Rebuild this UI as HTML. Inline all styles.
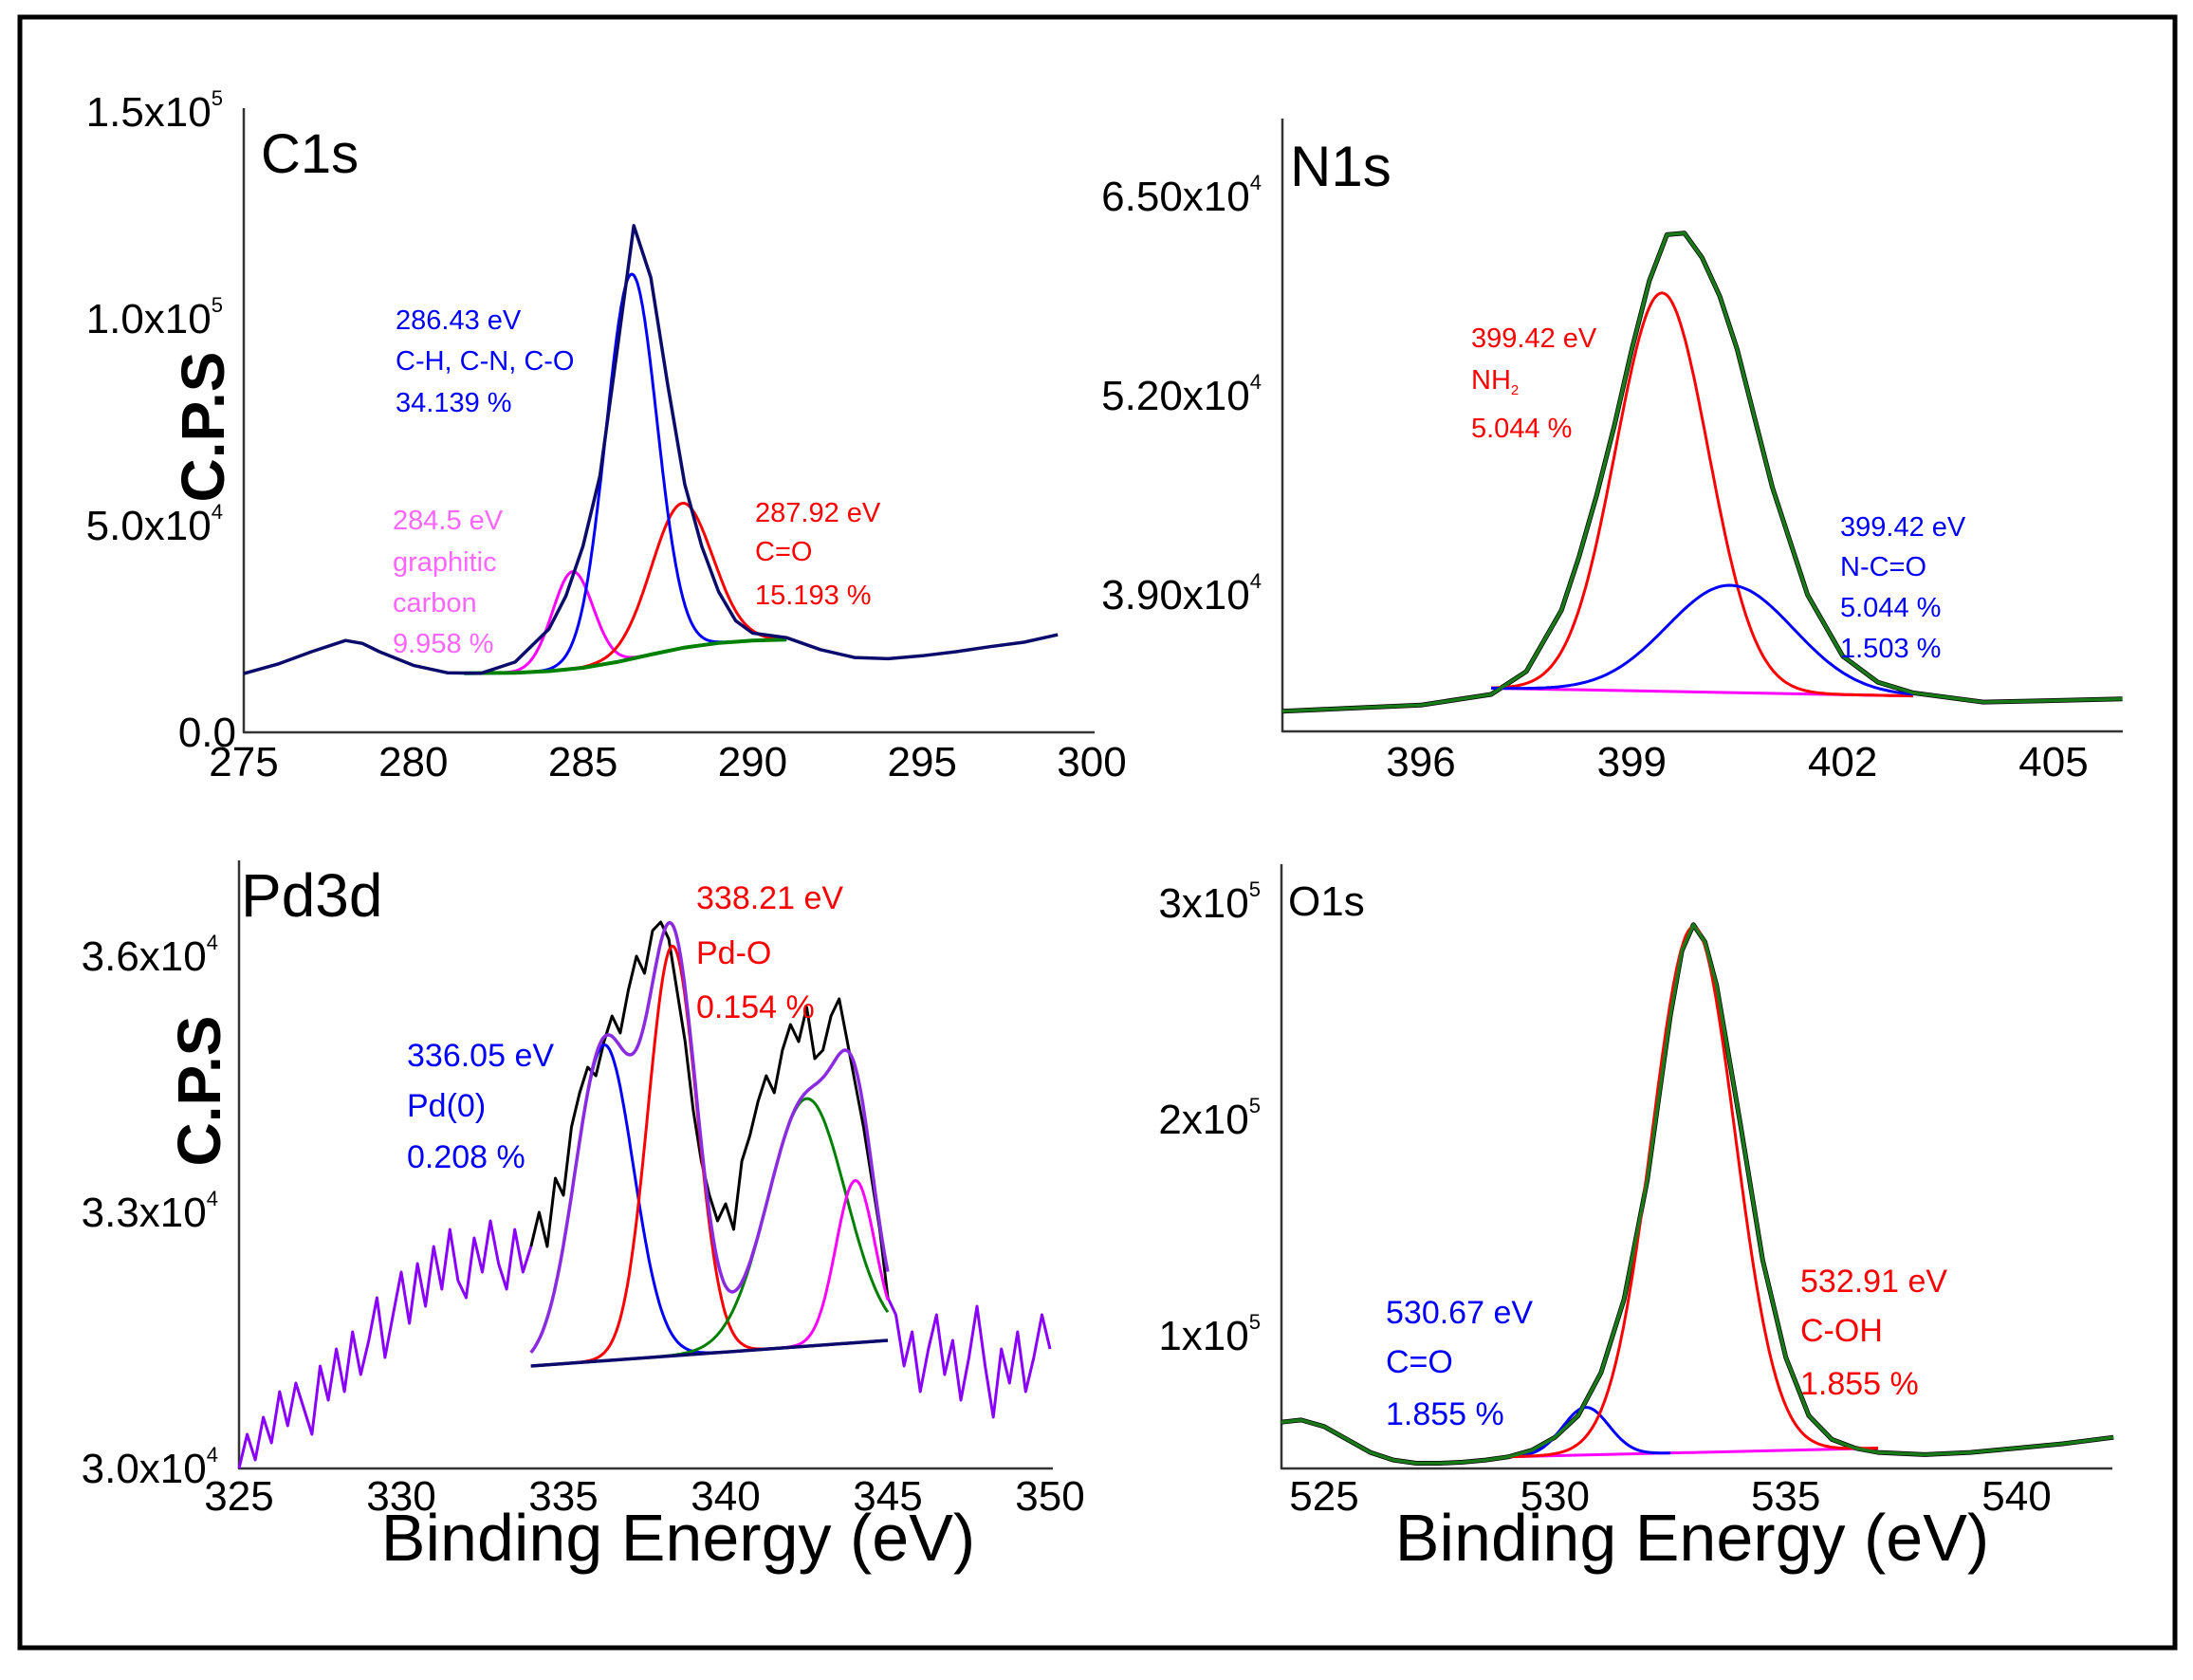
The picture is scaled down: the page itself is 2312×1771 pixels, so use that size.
<!DOCTYPE html>
<html><head><meta charset="utf-8">
<style>
html,body{margin:0;padding:0;background:#fff;}
svg{display:block;}
text{font-family:"Liberation Sans",sans-serif;}
</style></head>
<body>
<svg id="fig" width="2312" height="1771" viewBox="0 0 2312 1771" xmlns="http://www.w3.org/2000/svg">
<rect x="21" y="18" width="2272" height="1719" fill="none" stroke="#000" stroke-width="5"/>
<g id="layer"></g>
<text x="275" y="182" font-size="58">C1s</text>
<text transform="translate(236,450) rotate(-90)" text-anchor="middle" font-size="64" font-weight="bold">C.P.S</text>
<g font-size="29">
<text x="417" y="347" fill="#0000ff">286.43 eV</text>
<text x="417" y="390" fill="#0000ff">C-H, C-N, C-O</text>
<text x="417" y="434" fill="#0000ff">34.139 %</text>
<text x="414" y="558" fill="#ff66ff">284.5 eV</text>
<text x="414" y="602" fill="#ff66ff">graphitic</text>
<text x="414" y="645" fill="#ff66ff">carbon</text>
<text x="414" y="688" fill="#ff66ff">9.958 %</text>
<text x="796" y="550" fill="#ff0000">287.92 eV</text>
<text x="796" y="591" fill="#ff0000">C=O</text>
<text x="796" y="637" fill="#ff0000">15.193 %</text>
</g>
<text x="1360" y="196" font-size="60">N1s</text>
<g font-size="29">
<text x="1551" y="366" fill="#ff0000">399.42 eV</text>
<text x="1551" y="410" fill="#ff0000">NH<tspan font-size="15" dy="6">2</tspan></text>
<text x="1551" y="461" fill="#ff0000">5.044 %</text>
<text x="1940" y="565" fill="#0000ff">399.42 eV</text>
<text x="1940" y="607" fill="#0000ff">N-C=O</text>
<text x="1940" y="650" fill="#0000ff">5.044 %</text>
<text x="1940" y="693" fill="#0000ff">1.503 %</text>
</g>
<text x="254" y="966" font-size="64">Pd3d</text>
<text transform="translate(232,1150) rotate(-90)" text-anchor="middle" font-size="64" font-weight="bold">C.P.S</text>
<g font-size="34">
<text x="429" y="1124" fill="#0000ff">336.05 eV</text>
<text x="429" y="1177" fill="#0000ff">Pd(0)</text>
<text x="429" y="1231" fill="#0000ff">0.208 %</text>
<text x="734" y="958" fill="#ff0000">338.21 eV</text>
<text x="734" y="1016" fill="#ff0000">Pd-O</text>
<text x="734" y="1073" fill="#ff0000">0.154 %</text>
</g>
<text x="715" y="1645" text-anchor="middle" font-size="70">Binding Energy (eV)</text>
<text x="1358" y="965" font-size="44">O1s</text>
<g font-size="34">
<text x="1461" y="1395" fill="#0000ff">530.67 eV</text>
<text x="1461" y="1447" fill="#0000ff">C=O</text>
<text x="1461" y="1502" fill="#0000ff">1.855 %</text>
<text x="1898" y="1362" fill="#ff0000">532.91 eV</text>
<text x="1898" y="1414" fill="#ff0000">C-OH</text>
<text x="1898" y="1470" fill="#ff0000">1.855 %</text>
</g>
<text x="1784" y="1645" text-anchor="middle" font-size="70">Binding Energy (eV)</text>
</svg>
<script>
// ---------- C1s data ----------
const c1sRawE = [275,276,277,278,278.5,279,280,281,282,283,284,284.5,285,285.5,286,286.5,287,287.5,288,288.5,289,289.5,290,291,292,293,294,295,296,297,298,299];
const c1sRawV = [14.2,16.5,19.5,22.2,21.5,19.5,16.2,14.4,14.3,17,25,33,45,62,92,122.5,110,84,60,45,34,27,24,22.9,20,18.1,17.8,18.5,19.5,20.7,21.8,23.6];
const c1sBaseE = [281.5,283,284,285,286,287,288,289,290,291];
const c1sBaseV = [14.3,14.4,14.8,15.6,17,18.8,20.5,21.6,22.2,22.4];
const c1sPeakCenter = [284.7,286.43,287.92];
const c1sPeakAmp = [23.5,93,35];
const c1sPeakSigma = [0.6,0.75,0.9];
const c1sYTicks = [0,50000,100000,150000];
const c1sYTickLabels = [['0.0',''],['5.0x10','4'],['1.0x10','5'],['1.5x10','5']];
const c1sXTicks = [275,280,285,290,295,300];

// ---------- N1s data ----------
const n1sRawE = [394.03,395,396,397,397.5,398,398.25,398.5,398.75,399,399.25,399.5,399.75,400,400.25,400.5,400.75,401,401.5,402,402.5,403,404,405,405.98];
const n1sRawV = [31.4,31.6,31.8,32.5,34,38,41.5,45.5,50,55,59.5,62.5,62.6,61,58.5,55,50.5,46,39,35,33.3,32.6,32.0,32.1,32.2];
const n1sBaseE = [397,403];
const n1sBaseV = [32.9,32.4];
const n1sPeakCenter = [399.43,400.4];
const n1sPeakAmp = [26,7];
const n1sPeakSigma = [0.66,0.9];
const n1sYTicks = [39000,52000,65000];
const n1sYTickLabels = [['3.90x10','4'],['5.20x10','4'],['6.50x10','4']];
const n1sXTicks = [396,399,402,405];

// ---------- Pd3d data ----------
const pdLeftV = [30.0,30.4,30.1,30.6,30.3,30.9,30.5,31.0,30.7,30.4,31.2,30.8,31.4,30.9,31.6,31.1,31.5,32.0,31.3,31.8,32.3,31.7,32.4,31.9,32.6,32.1,32.8,32.2,32.0,32.7,32.3,32.9,32.4,32.1,32.8,32.3,32.6];
const pdMidV = [32.6,33.0,32.6,33.4,33.2,34.0,34.4,34.7,34.6,35.0,35.3,35.1,35.6,36.0,35.8,36.3,36.4,36.2,35.6,35.0,34.2,33.6,33.2,32.9,33.1,32.8,33.6,33.9,34.3,34.6,34.4,34.9,35.2,35.0,35.4,34.8,34.9,35.3,35.5,35.0,34.5,34.0,33.4,32.8,32.0];
const pdRightV = [32.0,31.8,31.2,31.6,30.9,31.4,31.8,31.1,31.5,30.8,31.3,31.9,31.2,30.6,31.4,31.0,31.6,30.9,31.3,31.8,31.4];
const pdLeftStart = 325, pdMidStart = 334, pdRightStart = 345, pdStep = 0.25;
const pdBaseE = [334,345];
const pdBaseV = [31.2,31.5];
const pdPeakCenter = [336.26,338.36,342.5,344.0];
const pdPeakAmp = [3.7,4.8,2.9,1.9];
const pdPeakSigma = [0.9,0.75,1.2,0.6];
const pdYTicks = [30000,33000,36000];
const pdYTickLabels = [['3.0x10','4'],['3.3x10','4'],['3.6x10','4']];
const pdXTicks = [325,330,335,340,345,350];

// ---------- O1s data ----------
const o1sRawE = [524.07,524.5,525,525.5,526,526.5,527,527.5,528,528.5,529,529.5,530,530.5,531,531.5,532,532.25,532.5,532.75,533,533.25,533.5,534,534.5,535,535.5,536,536.5,537,538,539,540,541,542.1];
const o1sRawV = [60,61,58,52,46,42.5,41,41,41.5,42.5,44,47,53,63,83,117,172,210,248,278,290,282,262,200,135,90,63,52,48,46,45,46,48,50,53];
const o1sBaseE = [529,537];
const o1sBaseV = [44,48];
const o1sPeakCenter = [530.67,533.0];
const o1sPeakAmp = [22,243];
const o1sPeakSigma = [0.5,0.9];
const o1sYTicks = [100000,200000,300000];
const o1sYTickLabels = [['1x10','5'],['2x10','5'],['3x10','5']];
const o1sXTicks = [525,530,535,540];

const NS = 'http://www.w3.org/2000/svg';
const layer = document.getElementById('layer');
function lin(d0,d1,r0,r1){return v=>r0+(v-d0)*(r1-r0)/(d1-d0);}
function interp(xs,vs,x){
  if(x<=xs[0])return vs[0];
  for(let i=1;i<xs.length;i++){if(x<=xs[i]){const t=(x-xs[i-1])/(xs[i]-xs[i-1]);return vs[i-1]+t*(vs[i]-vs[i-1]);}}
  return vs[vs.length-1];
}
function gauss(x,c,a,s){return a*Math.exp(-(x-c)*(x-c)/(2*s*s));}
function mkPath(d,color,w){
  const p=document.createElementNS(NS,'path');
  p.setAttribute('d',d);p.setAttribute('fill','none');p.setAttribute('stroke',color);
  p.setAttribute('stroke-width',w);p.setAttribute('stroke-linejoin','round');
  layer.appendChild(p);return p;
}
function ptsToD(pts){return pts.map((p,i)=>(i?'L':'M')+p[0].toFixed(1)+' '+p[1].toFixed(1)).join(' ');}
function mkText(x,y,str,size,anchor){
  const t=document.createElementNS(NS,'text');
  t.setAttribute('x',x);t.setAttribute('y',y);t.setAttribute('font-size',size);
  if(anchor)t.setAttribute('text-anchor',anchor);
  t.textContent=str;layer.appendChild(t);return t;
}
function addSup(t,s){
  if(!s)return;
  const sp=document.createElementNS(NS,'tspan');
  sp.setAttribute('font-size','22');sp.setAttribute('dy','-22');sp.textContent=s;t.appendChild(sp);
}
function axes(cfg){
  const a=mkPath('M'+cfg.ax+' '+cfg.top+' L'+cfg.ax+' '+cfg.ay+' L'+cfg.right+' '+cfg.ay,'#333',2.5);
  
  
  cfg.yt.forEach((v,i)=>{
    const t=mkText(cfg.ax-8,cfg.Y(v)+15,cfg.ytl[i][0],cfg.fs,'end');
    if(cfg.ytl[i][1]){t.setAttribute('x',cfg.ax-22);}
    addSup(t,cfg.ytl[i][1]);
    
    
  });
  cfg.xt.forEach(v=>{
    const t=mkText(cfg.X(v),cfg.xly,String(v),cfg.fs,'middle');
    
    
  });
}
function curve(X,Y,lo,hi,f){
  const pts=[];const n=200;
  for(let i=0;i<=n;i++){const e=lo+(hi-lo)*i/n;pts.push([X(e),Y(f(e))]);}
  return ptsToD(pts);
}

// ===== C1s =====
{
  const X=lin(275,300,257,1151), Y=lin(0,50000,772,554);
  axes({id:'c1s',ax:257,ay:772,top:114,right:1154,X,Y,yt:c1sYTicks,ytl:c1sYTickLabels,xt:c1sXTicks,xly:818,fs:44});
  const base=e=>interp(c1sBaseE,c1sBaseV,e)*1000;
  const pm=mkPath(curve(X,Y,282.6,287.5,e=>base(e)+gauss(e,c1sPeakCenter[0],c1sPeakAmp[0],c1sPeakSigma[0])*1000),'#ff00ff',3);
  
  
  const pr=mkPath(curve(X,Y,284.5,291,e=>base(e)+gauss(e,c1sPeakCenter[2],c1sPeakAmp[2],c1sPeakSigma[2])*1000),'#ff0000',3);
  
  
  const pb=mkPath(curve(X,Y,283.5,290.5,e=>base(e)+gauss(e,c1sPeakCenter[1],c1sPeakAmp[1],c1sPeakSigma[1])*1000),'#0000ff',3);
  
  
  const pg=mkPath(ptsToD(c1sBaseE.map((e,i)=>[X(e),Y(c1sBaseV[i]*1000)])),'#008000',4);
  
  
  const raw=mkPath(ptsToD(c1sRawE.map((e,i)=>[X(e),Y(c1sRawV[i]*1000)])),'#0b0b6b',3.5);
  
  
}
// ===== N1s =====
{
  const X=lin(396,405,1498,2165), Y=lin(39000,52000,627,417);
  axes({id:'n1s',ax:1352,ay:771,top:125,right:2238,X,Y,yt:n1sYTicks,ytl:n1sYTickLabels,xt:n1sXTicks,xly:818,fs:44});
  const base=e=>interp(n1sBaseE,n1sBaseV,e)*1000;
  const rawB=mkPath(ptsToD(n1sRawE.map((e,i)=>[X(e),Y(n1sRawV[i]*1000)])),'#000',5);
  
  
  const pm=mkPath(ptsToD(n1sBaseE.map((e,i)=>[X(e),Y(n1sBaseV[i]*1000)])),'#ff00ff',3);
  
  
  const pr=mkPath(curve(X,Y,397,403,e=>base(e)+gauss(e,n1sPeakCenter[0],n1sPeakAmp[0],n1sPeakSigma[0])*1000),'#ff0000',3);
  
  
  const pb=mkPath(curve(X,Y,397,403,e=>base(e)+gauss(e,n1sPeakCenter[1],n1sPeakAmp[1],n1sPeakSigma[1])*1000),'#0000ff',3);
  
  
  const raw=mkPath(ptsToD(n1sRawE.map((e,i)=>[X(e),Y(n1sRawV[i]*1000)])),'#1a7a1a',3.5);
  
  
}
// ===== Pd3d =====
{
  const X=lin(325,350,252,1107), Y=lin(30000,33000,1548,1278);
  axes({id:'pd3d',ax:252,ay:1548,top:907,right:1110,X,Y,yt:pdYTicks,ytl:pdYTickLabels,xt:pdXTicks,xly:1592,fs:44});
  const clipY=v=>Math.min(Y(v),1548);
  const seg=(start,vals)=>ptsToD(vals.map((v,i)=>[X(start+i*pdStep),clipY(v*1000)]));
  const l=mkPath(seg(pdLeftStart,pdLeftV),'#8a00ff',3);
  
  
  const r=mkPath(seg(pdRightStart,pdRightV),'#8a00ff',3);
  
  
  const m=mkPath(seg(pdMidStart,pdMidV),'#000',3);
  
  
  const base=e=>interp(pdBaseE,pdBaseV,e)*1000;
  const cols=['#0000ff','#ff0000','#008000','#ff00ff'];
  const names=['pd3d-pd0-peak','pd3d-pdo-peak','pd3d-peak-3','pd3d-peak-4'];
  for(let k=0;k<pdPeakCenter.length;k++){
    const p=mkPath(curve(X,Y,334,345,e=>base(e)+gauss(e,pdPeakCenter[k],pdPeakAmp[k],pdPeakSigma[k])*1000),cols[k],3);
    
    
  }
  const b=mkPath(ptsToD(pdBaseE.map((e,i)=>[X(e),Y(pdBaseV[i]*1000)])),'#0b0b6b',3.5);
  
  
  const env=mkPath(curve(X,Y,334,345,e=>{let s=base(e);for(let k=0;k<pdPeakCenter.length;k++)s+=gauss(e,pdPeakCenter[k],pdPeakAmp[k],pdPeakSigma[k])*1000;return s;}),'#8a2be2',3.5);
  
  
}
// ===== O1s =====
{
  const X=lin(525,540,1396,2126), Y=lin(100000,200000,1408,1180);
  axes({id:'o1s',ax:1351,ay:1548,top:911,right:2227,X,Y,yt:o1sYTicks,ytl:o1sYTickLabels,xt:o1sXTicks,xly:1592,fs:44});
  const base=e=>interp(o1sBaseE,o1sBaseV,e)*1000;
  const rawB=mkPath(ptsToD(o1sRawE.map((e,i)=>[X(e),Y(o1sRawV[i]*1000)])),'#000',5);
  
  
  const pm=mkPath(ptsToD(o1sBaseE.map((e,i)=>[X(e),Y(o1sBaseV[i]*1000)])),'#ff00ff',3);
  
  
  const pb=mkPath(curve(X,Y,529,532.5,e=>base(e)+gauss(e,o1sPeakCenter[0],o1sPeakAmp[0],o1sPeakSigma[0])*1000),'#0000ff',3);
  
  
  const pr=mkPath(curve(X,Y,529,537,e=>base(e)+gauss(e,o1sPeakCenter[1],o1sPeakAmp[1],o1sPeakSigma[1])*1000),'#ff0000',3);
  
  
  const raw=mkPath(ptsToD(o1sRawE.map((e,i)=>[X(e),Y(o1sRawV[i]*1000)])),'#1a7a1a',3.5);
  
  
}
</script>
</body></html>
